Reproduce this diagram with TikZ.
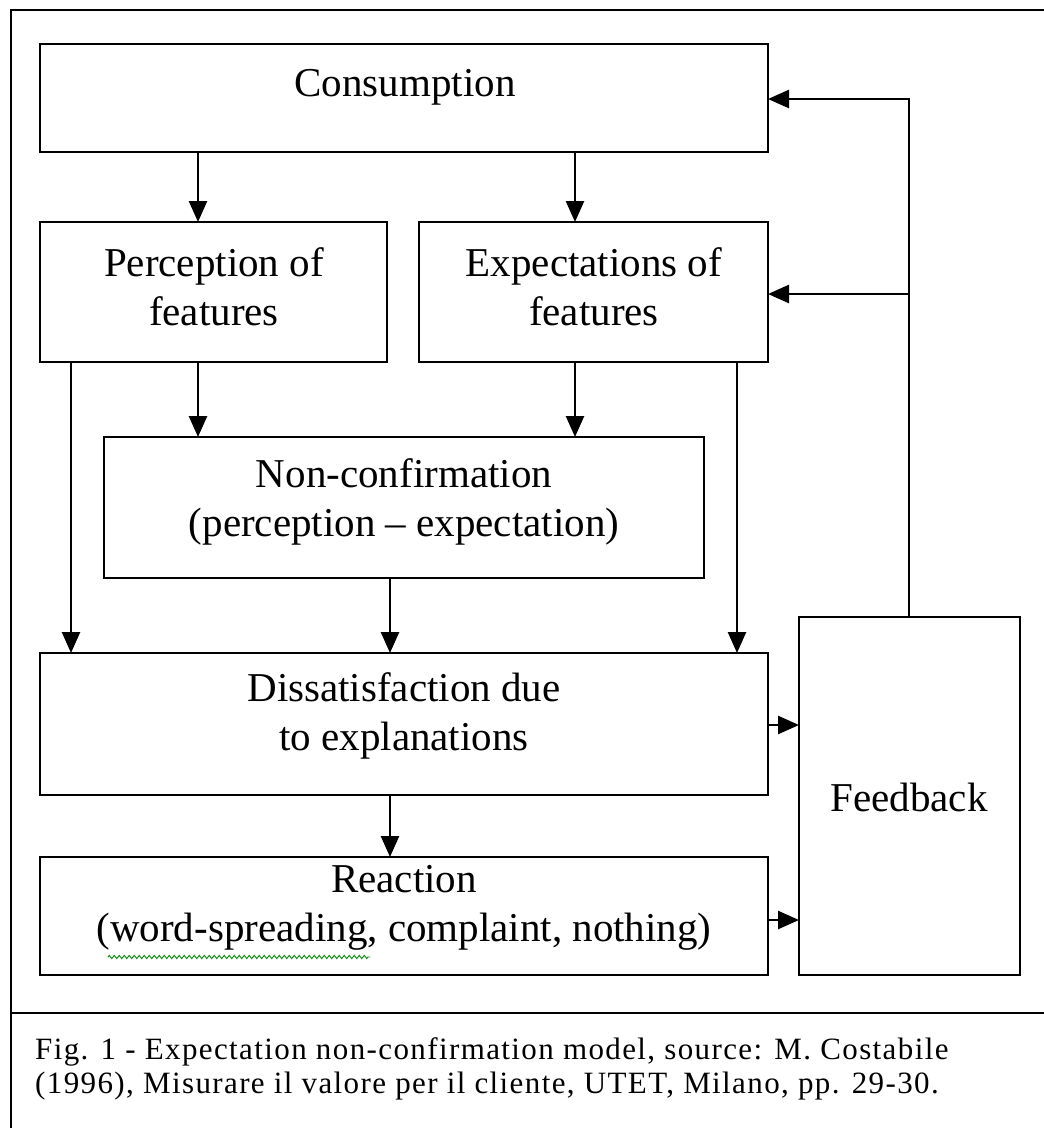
\documentclass[tikz,border=0pt]{standalone}
\usepackage{fontspec}
\setmainfont{Liberation Serif}
\usetikzlibrary{arrows.meta,decorations.pathmorphing}
\begin{document}
\begin{tikzpicture}[x=1pt,y=-1pt,
  box/.style={draw, line width=2.6pt, inner sep=0pt, outer sep=0pt},
  lbl/.style={font=\fontsize{41}{49}\selectfont, align=center, inner sep=0pt},
  captext/.style={font=\fontsize{31}{34}\selectfont\addfontfeatures{LetterSpace=4.5},
    align=left, inner sep=0pt, anchor=west},
  arr/.style={line width=2.6pt, -{Triangle[length=21pt,width=18pt]}},
  wire/.style={line width=2.6pt}]
\useasboundingbox (0,0) rectangle (1044,1128);
\fill[white] (0,0) rectangle (1044,1128);

% outer frame and caption divider
\draw[wire] (11,1132) -- (11,10) -- (1048,10);
\draw[wire] (11,1013) -- (1048,1013);

% boxes
\node[box, minimum width=728pt, minimum height=108pt] (cons) at (404,98) {};
\node[box, minimum width=347pt, minimum height=140pt] (perc) at (213.5,292) {};
\node[box, minimum width=349pt, minimum height=140pt] (expt) at (593.5,292) {};
\node[box, minimum width=600pt, minimum height=141pt] (nonc) at (404,507.5) {};
\node[box, minimum width=728pt, minimum height=142pt] (diss) at (404,724) {};
\node[box, minimum width=728pt, minimum height=118pt] (reac) at (404,916) {};
\node[box, minimum width=221pt, minimum height=358pt] (feed) at (909.5,796) {};

% box texts
\node[lbl] (tcons) at (405,87) {Consumption};
\node[lbl] (tperc) at (214,287) {Perception of\\features};
\node[lbl] (texpt) at (594,287) {Expectations of\\features};
\node[lbl] (tnonc) at (404,502) {Non-confirmation\\(perception -- expectation)};
\node[lbl] (tdiss) at (404,716) {Dissatisfaction due\\to explanations};
\node[lbl] (treac) at (404,908) {Reaction\\(word-spreading, complaint, nothing)};
\node[lbl] (tfeed) at (909,797) {Feedback};

% spelling squiggle under "word-spreading"
\draw[green!55!black, line width=0.9pt, decorate,
  decoration={zigzag, segment length=5pt, amplitude=1.6pt}]
  (108,957) -- (370,957);

% column positions of the vertical connectors
\coordinate (xa) at (198,0);
\coordinate (xb) at (575,0);
\coordinate (xc) at (71,0);
\coordinate (xd) at (737,0);
\coordinate (xe) at (390,0);
\coordinate (xf) at (909,0);
\coordinate (ya) at (0,725);
\coordinate (yb) at (0,920);
\coordinate (yc) at (0,99);
\coordinate (yd) at (0,294);

% connectors
\draw[arr] (cons.south -| xa) -- (perc.north -| xa);
\draw[arr] (cons.south -| xb) -- (expt.north -| xb);
\draw[arr] (perc.south -| xa) -- (nonc.north -| xa);
\draw[arr] (expt.south -| xb) -- (nonc.north -| xb);
\draw[arr] (perc.south -| xc) -- (diss.north -| xc);
\draw[arr] (expt.south -| xd) -- (diss.north -| xd);
\draw[arr] (nonc.south -| xe) -- (diss.north -| xe);
\draw[arr] (diss.south -| xe) -- (reac.north -| xe);
\draw[arr] (diss.east |- ya) -- (feed.west |- ya);
\draw[arr] (reac.east |- yb) -- (feed.west |- yb);
\coordinate (fb) at (xf |- yc);
\draw[arr] (feed.north -| xf) -- (fb) -- (cons.east |- yc);
\draw[arr] (xf |- yd) -- (expt.east |- yd);

% caption
\node[captext] (caption) at (35,1069) {Fig. 1 - Expectation non-confirmation model, source: M. Costabile\\(1996), Misurare il valore per il cliente, UTET, Milano, pp. 29-30.};
\end{tikzpicture}
\end{document}
